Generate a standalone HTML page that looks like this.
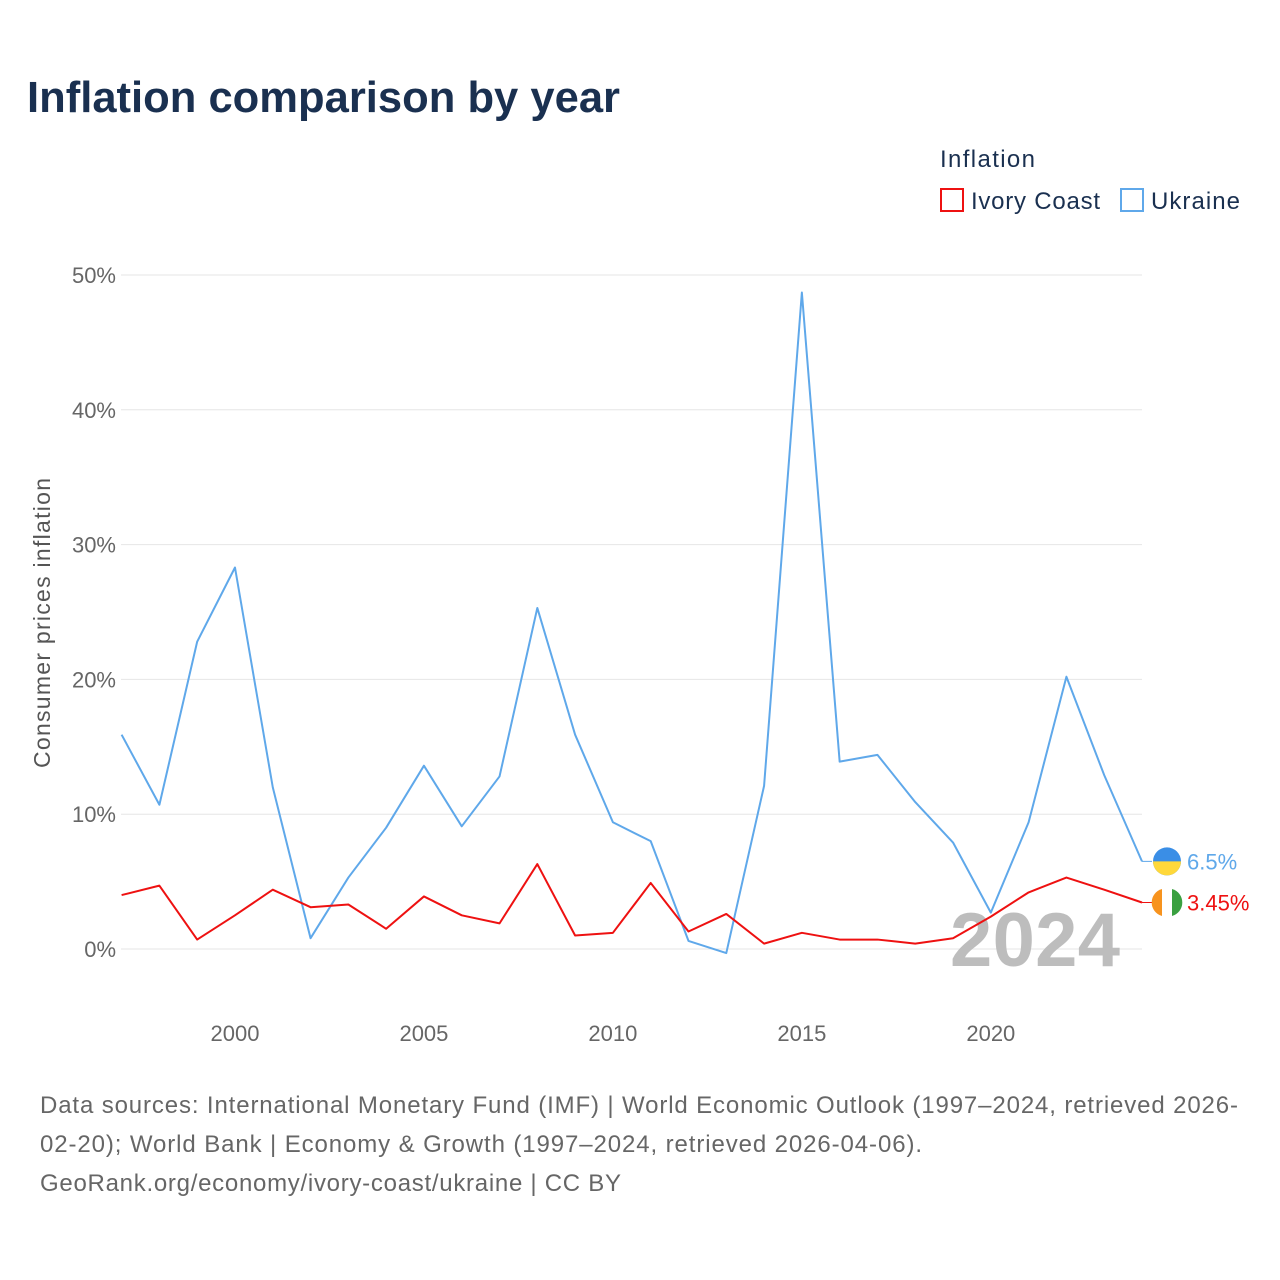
<!DOCTYPE html>
<html><head><meta charset="utf-8"><style>
body{margin:0;background:#fff;font-family:"Liberation Sans",sans-serif;}
svg{display:block}
</style></head><body>
<svg id="chart" width="1280" height="1280">
<text x="27" y="112" font-size="44" font-weight="bold" fill="#1a3050" textLength="593" lengthAdjust="spacingAndGlyphs">Inflation comparison by year</text>
<g>
<text x="940" y="167" font-size="24" fill="#1a3050" textLength="95">Inflation</text>
<g><rect x="941" y="189" width="22" height="22" fill="none" stroke="#ee1111" stroke-width="2"/><text x="971" y="209" font-size="24" fill="#1a3050" textLength="129">Ivory Coast</text></g>
<g><rect x="1121" y="189" width="22" height="22" fill="none" stroke="#5fa8ea" stroke-width="2"/><text x="1151" y="209" font-size="24" fill="#1a3050" textLength="89">Ukraine</text></g>
</g>
<g id="grid"></g><g id="xaxis"></g>
<text x="950" y="966" font-size="76" font-weight="bold" fill="#bdbdbd" textLength="170">2024</text>
<g id="lines"></g>
<text transform="translate(50,623) rotate(-90)" text-anchor="middle" font-size="23" fill="#555" textLength="290">Consumer prices inflation</text>
<g font-size="24" fill="#666">
<text x="40" y="1113" textLength="1198">Data sources: International Monetary Fund (IMF) | World Economic Outlook (1997–2024, retrieved 2026-</text>
<text x="40" y="1152" textLength="882">02-20); World Bank | Economy &amp; Growth (1997–2024, retrieved 2026-04-06).</text>
<text x="40" y="1191" textLength="581">GeoRank.org/economy/ivory-coast/ukraine | CC BY</text>
</g>
</svg>
<script>
const years=[1997,1998,1999,2000,2001,2002,2003,2004,2005,2006,2007,2008,2009,2010,2011,2012,2013,2014,2015,2016,2017,2018,2019,2020,2021,2022,2023,2024];
const ukraine=[15.9,10.7,22.8,28.3,12.0,0.8,5.3,9.0,13.6,9.1,12.8,25.3,15.9,9.4,8.0,0.6,-0.3,12.1,48.7,13.9,14.4,10.9,7.9,2.7,9.4,20.2,12.9,6.5];
const ivory=[4.0,4.7,0.7,2.5,4.4,3.1,3.3,1.5,3.9,2.5,1.9,6.3,1.0,1.2,4.9,1.3,2.6,0.4,1.2,0.7,0.7,0.4,0.8,2.4,4.2,5.3,4.4,3.45];
const yTicks=[0,10,20,30,40,50];
const xTicks=[2000,2005,2010,2015,2020];
const NS='http://www.w3.org/2000/svg';
const X=v=>121.6+(v-1997)*(1142-121.6)/27;
const Y=v=>949-v*13.48;
function mk(t,a,p){const e=document.createElementNS(NS,t);for(const k in a)e.setAttribute(k,a[k]);p.appendChild(e);return e;}
const grid=document.getElementById('grid');
yTicks.forEach(t=>{
 const l=mk('line',{x1:121,x2:1142,y1:Y(t),y2:Y(t),stroke:'#e6e6e6','stroke-width':1},grid);
 
 
 const tx=mk('text',{x:116,y:Y(t)+8,'text-anchor':'end','font-size':22,fill:'#666'},grid);
 tx.textContent=t+'%';
 
 
});
const xa=document.getElementById('xaxis');
xTicks.forEach(t=>{
 const tx=mk('text',{x:X(t),y:1041,'text-anchor':'middle','font-size':22,fill:'#666'},xa);
 tx.textContent=t;
 
 
});
const lg=document.getElementById('lines');
function series(vals,col,name,label){
 const p=mk('polyline',{points:vals.map((v,i)=>X(years[i])+','+Y(v)).join(' '),fill:'none',stroke:col,'stroke-width':2,'stroke-linejoin':'round'},lg);
 
 
 const last=vals[vals.length-1], ly=Y(last);
 mk('line',{x1:1142,x2:1152,y1:ly,y2:ly,stroke:col,'stroke-width':1},lg);
 const c=mk('circle',{cx:1167,cy:ly,r:14,fill:col},lg);
 
 
 const t=mk('text',{x:1187,y:ly+8,'font-size':22,fill:col},lg);
 t.textContent=label;
 
 
 return c;
}
const uc=series(ukraine,'#5fa8ea','ukraine','6.5%');
uc.setAttribute('fill','#3a8ee6');
mk('path',{d:`M1153 ${Y(6.5)} A14 14 0 0 0 1181 ${Y(6.5)} Z`,fill:'#ffd83a'},lg);
const ic=series(ivory,'#ee1111','ivory-coast','3.45%');
const iy=Y(3.45);
ic.setAttribute('fill','#fff');
mk('path',{d:`M1162 ${iy-13.5} A14 14 0 0 0 1162 ${iy+13.5} Z`,fill:'#f7931e'},lg);
mk('path',{d:`M1172 ${iy-13.5} A14 14 0 0 1 1172 ${iy+13.5} Z`,fill:'#3aa040'},lg);
</script>
</body></html>
